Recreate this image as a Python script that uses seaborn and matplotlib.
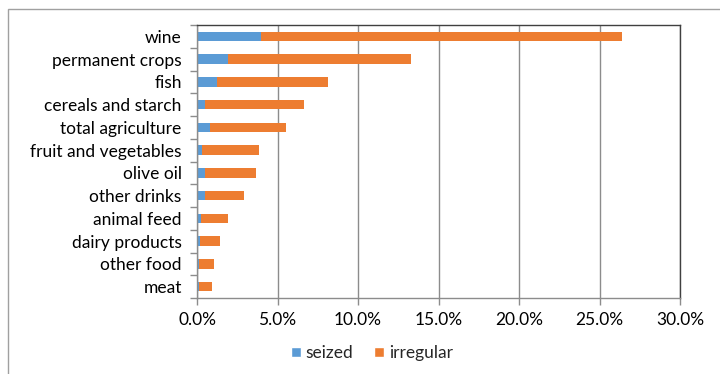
import matplotlib
matplotlib.use("Agg")
import matplotlib.pyplot as plt
import seaborn as sns
import pandas as pd
import numpy as np
from matplotlib.patches import Rectangle, Patch
from matplotlib.ticker import FuncFormatter, FixedLocator

categories = ["wine", "permanent crops", "fish", "cereals and starch", "total agriculture",
              "fruit and vegetables", "olive oil", "other drinks", "animal feed",
              "dairy products", "other food", "meat"]
seized = [4.0, 1.95, 1.25, 0.47, 0.8, 0.34, 0.52, 0.48, 0.23, 0.17, 0.10, 0.10]
irregular = [22.4, 11.35, 6.9, 6.17, 4.7, 3.52, 3.12, 2.45, 1.67, 1.28, 0.93, 0.81]
xticks = [0, 5, 10, 15, 20, 25, 30]

BLUE = "#5B9BD5"
ORANGE = "#ED7D31"

sns.set_theme(style="white")
plt.rcParams["font.family"] = ["Lato", "DejaVu Sans"]

df = pd.DataFrame({"category": categories, "seized": seized, "irregular": irregular})
df["total"] = df["seized"] + df["irregular"]

fig = plt.figure(figsize=(7.2, 3.74), dpi=100)
ax = fig.add_axes([197/720, 1-298/374, (680-197)/720, (298-25)/374])

sns.barplot(data=df, y="category", x="total", color=ORANGE, orient="h", width=0.42,
            ax=ax, saturation=1, linewidth=0)
sns.barplot(data=df, y="category", x="seized", color=BLUE, orient="h", width=0.42,
            ax=ax, saturation=1, linewidth=0)

ax.set_xlim(0, 30)
ax.set_ylim(len(categories) - 0.5, -0.5)
ax.set_xticks(xticks)
ax.xaxis.set_major_formatter(FuncFormatter(lambda v, p: f"{v:.1f}%"))
ax.set_xlabel("")
ax.set_ylabel("")
ax.grid(axis="x", color="#8c8c8c", linewidth=1)
ax.set_axisbelow(True)

FS = 12.5
ax.tick_params(axis="x", which="major", length=5, width=1, color="#8c8c8c", direction="out",
               labelsize=FS, pad=5, bottom=True, labelcolor="black")
ax.tick_params(axis="y", which="major", length=0, labelsize=FS, pad=11, labelcolor="black")
ax.yaxis.set_minor_locator(FixedLocator(np.arange(-0.5, len(categories), 1.0)))
ax.tick_params(axis="y", which="minor", length=5, width=1, color="#8c8c8c", direction="out", left=True)

for s in ["left", "bottom"]:
    ax.spines[s].set_color("#8c8c8c")
    ax.spines[s].set_linewidth(1)
for s in ["top", "right"]:
    ax.spines[s].set_color("#404040")
    ax.spines[s].set_linewidth(1)

# outer frame
fig.patches.append(Rectangle((8/720, -0.05), 1.0, 1 - 9/374 + 0.05, transform=fig.transFigure,
                             fill=False, edgecolor="#a0a0a0", linewidth=1))

handles = [Patch(facecolor=BLUE, label="seized"), Patch(facecolor=ORANGE, label="irregular")]
fig.legend(handles=handles, loc="center", bbox_to_anchor=(372/720, 1-353/374), ncol=2,
           frameon=False, fontsize=FS, handlelength=0.55, handleheight=0.55,
           handletextpad=0.3, columnspacing=1.2)

fig.savefig("out.png", dpi=100)
